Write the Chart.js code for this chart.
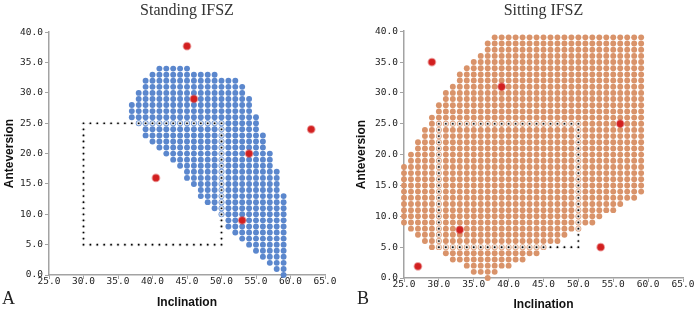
<!DOCTYPE html>
<html>
<head>
<meta charset="utf-8">
<script src="https://cdn.jsdelivr.net/npm/chart.js@4/dist/chart.umd.min.js"></script>
<style>
  html, body { margin: 0; padding: 0; background: #fff; }
  #wrap { position: relative; width: 697px; height: 313px; overflow: hidden; }
  canvas { position: absolute; top: 0; }
  #cA { left: 0; }
  #cB { left: 348px; }
  .tag { position: absolute; top: 288px; font: 18px "Liberation Serif", serif; color: #222; line-height: 20px; }
</style>
</head>
<body>
<div id="wrap">
  <canvas id="cA" width="348" height="313"></canvas>
  <canvas id="cB" width="349" height="313"></canvas>
  <div class="tag" style="left:2px">A</div>
  <div class="tag" style="left:357px">B</div>
</div>
<script>
const xTickLabels = ['25.0', '30.0', '35.0', '40.0', '45.0', '50.0', '55.0', '60.0', '65.0'];
const yTickLabels = ['0.0', '5.0', '10.0', '15.0', '20.0', '25.0', '30.0', '35.0', '40.0'];

// standing IFSZ: one row of grid dots per anteversion value, inclination from start to end
const standRowY     = [34, 33, 32, 31, 30, 29, 28, 27, 26, 25, 24, 23, 22, 21, 20, 19, 18, 17, 16, 15, 14, 13, 12, 11, 10, 9, 8, 7, 6, 5, 4, 3, 2, 1, 0];
const standRowStart = [41, 40, 39, 39, 38, 38, 37, 37, 37, 38, 39, 39, 40, 41, 42, 43, 44, 45, 45, 46, 47, 47, 48, 49, 50, 51, 51, 52, 53, 54, 55, 56, 57, 58, 59];
const standRowEnd   = [45, 49, 52, 53, 53, 54, 54, 54, 55, 55, 55, 56, 56, 56, 57, 57, 57, 58, 58, 58, 58, 59, 59, 59, 59, 59, 59, 59, 59, 59, 59, 59, 59, 59, 59];

// cups outside / inside the zone (red)
const standCupX = [45, 46, 63, 54, 40.5, 53];
const standCupY = [37.7, 29, 24, 20, 16, 9];

// sitting IFSZ
const sitRowY     = [39, 38, 37, 36, 35, 34, 33, 32, 31, 30, 29, 28, 27, 26, 25, 24, 23, 22, 21, 20, 19, 18, 17, 16, 15, 14, 13, 12, 11, 10, 9, 8, 7, 6, 5, 4, 3, 2, 1, 0];
const sitRowStart = [38, 37, 37, 36, 35, 34, 33, 33, 32, 31, 31, 30, 30, 29, 29, 28, 28, 27, 27, 26, 26, 25, 25, 25, 25, 25, 25, 25, 25, 25, 25, 26, 27, 28, 29, 31, 32, 34, 35, 37];
const sitRowEnd   = [59, 59, 59, 59, 59, 59, 59, 59, 59, 59, 59, 59, 59, 59, 59, 59, 59, 59, 59, 59, 59, 59, 59, 59, 59, 59, 58, 56, 55, 53, 52, 50, 48, 47, 45, 44, 42, 40, 38, 37];

const sitCupX = [29, 39, 56, 33, 53.2, 27];
const sitCupY = [35, 31, 25, 7.8, 5, 1.9];

// Lewinnek safe zone corners
const boxX = [30, 50];
const boxY = [5, 25];

const axisGray = '#a3a3a3';

const rowsToPoints = (ys, starts, ends) => {
    const pts = [];
    ys.forEach((y, i) => {
        for (let x = starts[i]; x <= ends[i]; x++) pts.push({ x, y });
    });
    return pts;
};

const boxPoints = () => {
    const pts = [];
    for (let x = boxX[0]; x <= boxX[1]; x++) {
        pts.push({ x, y: boxY[0] });
        pts.push({ x, y: boxY[1] });
    }
    for (let y = boxY[0] + 1; y < boxY[1]; y++) {
        pts.push({ x: boxX[0], y });
        pts.push({ x: boxX[1], y });
    }
    return pts;
};

const makePanel = (canvasId, title, zone, cupX, cupY, color, sizes) => {
    const ctx = document.getElementById(canvasId);
    return new Chart(ctx, {
        type: 'scatter',
        data: {
            datasets: [
                {
                    label: 'zone',
                    data: zone,
                    backgroundColor: color,
                    borderWidth: 0,
                    pointRadius: 2.95,
                    clip: false,
                    order: 3
                },
                {
                    label: 'box',
                    data: boxPoints(),
                    backgroundColor: '#000',
                    borderColor: 'rgba(255,255,255,0.8)',
                    borderWidth: 1.5,
                    pointRadius: 1.6,
                    clip: false,
                    order: 2
                },
                {
                    label: 'cups',
                    data: cupX.map((x, i) => ({ x, y: cupY[i] })),
                    backgroundColor: '#d21f1f',
                    borderColor: 'rgba(215,50,50,0.45)',
                    borderWidth: 2,
                    pointRadius: 3.4,
                    clip: false,
                    order: 1
                }
            ]
        },
        options: {
            responsive: false,
            animation: false,
            events: [],
            layout: { padding: { left: 0, right: sizes.right, top: 0, bottom: 0 } },
            plugins: {
                legend: { display: false },
                tooltip: { enabled: false },
                title: {
                    display: true,
                    text: title,
                    fullSize: false,
                    color: '#333',
                    font: { family: 'Liberation Serif', size: 16, weight: 'normal' },
                    padding: { top: 1, bottom: sizes.titleGap }
                }
            },
            scales: {
                x: {
                    type: 'linear',
                    min: 25,
                    max: 65,
                    afterFit: s => { s.height = sizes.xh; },
                    ticks: {
                        stepSize: 5,
                        padding: -3,
                        color: '#222',
                        font: { family: 'DejaVu Sans Mono', size: 9.5 },
                        callback: (v, i) => xTickLabels[i]
                    },
                    grid: { drawOnChartArea: false, drawTicks: true, tickLength: 4, color: axisGray, lineWidth: 1 },
                    border: { display: true, color: axisGray, width: 1.5 },
                    title: {
                        display: true,
                        text: 'Inclination',
                        color: '#111',
                        font: { family: 'Liberation Sans', size: 12, weight: 'bold' },
                        padding: { top: 0, bottom: sizes.xTitleBottom }
                    }
                },
                y: {
                    type: 'linear',
                    min: 0,
                    max: 40,
                    afterFit: s => { s.width = sizes.yw; },
                    ticks: {
                        stepSize: 5,
                        padding: 2,
                        color: '#222',
                        font: { family: 'DejaVu Sans Mono', size: 9.5 },
                        callback: (v, i) => yTickLabels[i]
                    },
                    grid: { drawOnChartArea: false, drawTicks: true, tickLength: 4, color: axisGray, lineWidth: 1 },
                    border: { display: true, color: axisGray, width: 1.5 },
                    title: {
                        display: true,
                        text: 'Anteversion',
                        color: '#111',
                        font: { family: 'Liberation Sans', size: 12, weight: 'bold' },
                        padding: { top: sizes.yTitleLeft, bottom: 0 }
                    }
                }
            }
        }
    });
};

makePanel('cA', 'Standing IFSZ', rowsToPoints(standRowY, standRowStart, standRowEnd),
    standCupX, standCupY, 'rgb(91,135,205)',
    { right: 23, titleGap: 12, xh: 38, yw: 49, xTitleBottom: 3, yTitleLeft: 2 });

makePanel('cB', 'Sitting IFSZ', rowsToPoints(sitRowY, sitRowStart, sitRowEnd),
    sitCupX, sitCupY, 'rgb(217,147,106)',
    { right: 14, titleGap: 11, xh: 35, yw: 56, xTitleBottom: 1, yTitleLeft: 6 });
</script>
</body>
</html>
